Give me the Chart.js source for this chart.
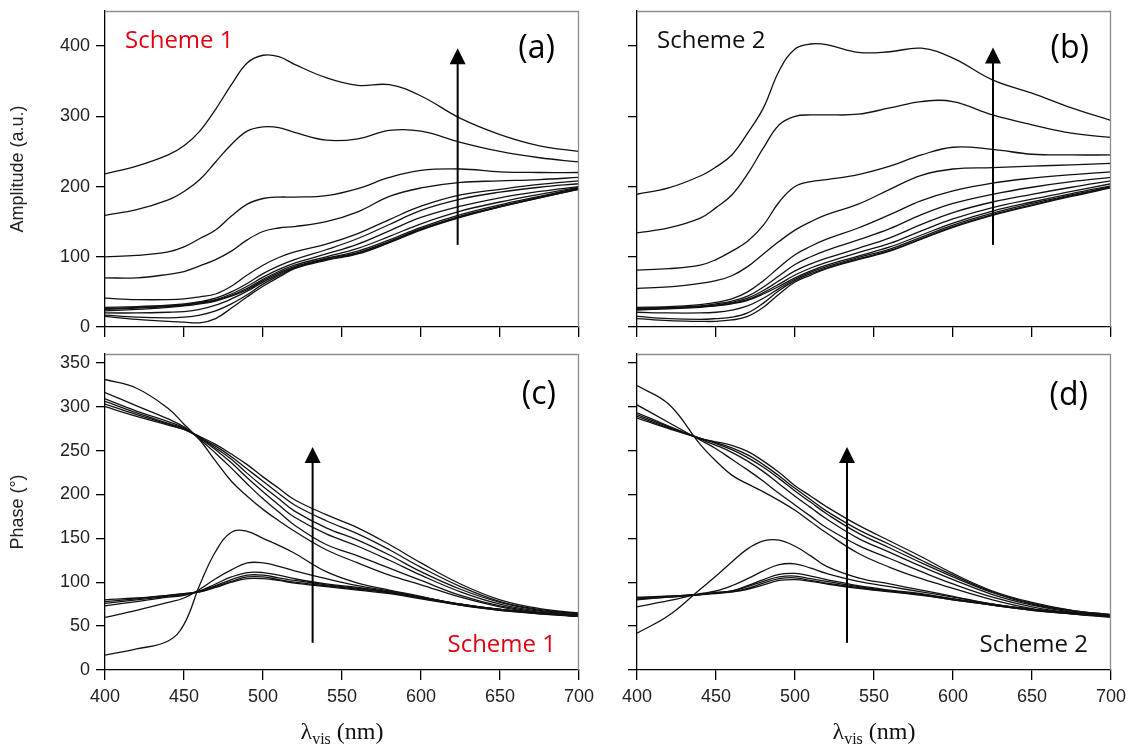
<!DOCTYPE html>
<html>
<head>
<meta charset="utf-8">
<script src="https://cdn.jsdelivr.net/npm/chart.js@4.4.0/dist/chart.umd.min.js"></script>
<style>
  body { margin: 0; background: #fff; width: 1128px; height: 745px; overflow: hidden; position: relative; }
  canvas { position: absolute; }
</style>
</head>
<body>
<canvas id="panelA" width="605" height="340" style="left:0;top:0"></canvas>
<canvas id="panelB" width="538" height="340" style="left:590px;top:0"></canvas>
<canvas id="panelC" width="605" height="405" style="left:0;top:340px"></canvas>
<canvas id="panelD" width="538" height="405" style="left:590px;top:340px"></canvas>
<script>
// wavelength grid (nm), shared by every curve
const wavelengths = [400, 420, 440, 450, 460, 470, 480, 490, 500, 510, 520, 540, 560, 580, 600, 625, 650, 675, 700];

// tick labels
const xTicks = [400, 450, 500, 550, 600, 650, 700];
const amplitudeTicks = [0, 100, 200, 300, 400];
const phaseTicks = [0, 50, 100, 150, 200, 250, 300, 350];

// (a) amplitude, scheme 1
const amplitudeScheme1 = [
  [218, 229, 245, 258, 279, 310, 345, 376, 387, 385, 374, 355, 344, 345, 329, 297, 274, 258, 250],
  [159, 167, 181, 193, 210, 235, 260, 279, 285, 284, 277, 266, 268, 280, 279, 263, 250, 241, 235],
  [100, 102, 107, 114, 126, 138, 158, 175, 183, 185, 185, 187, 197, 213, 223, 225, 221, 220, 220],
  [70, 70, 75, 79, 87, 96, 108, 124, 136, 141, 143, 150, 164, 186, 198, 206, 208, 210, 213],
  [41, 39, 39, 40, 43, 47, 58, 74, 88, 99, 107, 118, 133, 153, 172, 188, 196, 203, 208],
  [28, 29, 31, 33, 36, 41, 50, 62, 76, 87, 96, 110, 126, 146, 166, 182, 192, 199, 204],
  [26, 28, 30, 32, 35, 39, 47, 58, 71, 82, 91, 104, 118, 137, 156, 172, 184, 193, 200],
  [25, 27, 29, 31, 34, 38, 45, 55, 68, 79, 88, 100, 112, 129, 147, 165, 178, 189, 199],
  [23, 25, 28, 30, 33, 37, 44, 53, 66, 77, 86, 98, 108, 124, 142, 160, 174, 186, 198],
  [20, 20, 21, 22, 25, 31, 40, 51, 64, 75, 85, 97, 106, 122, 140, 158, 172, 185, 197],
  [17, 14, 13, 14, 17, 23, 33, 46, 61, 73, 84, 96, 105, 121, 139, 157, 171, 184, 196],
  [15, 11, 8, 7, 6, 12, 27, 43, 58, 71, 83, 95, 104, 120, 138, 156, 171, 184, 196]
];

// (b) amplitude, scheme 2
const amplitudeScheme2 = [
  [189, 198, 215, 228, 245, 276, 312, 365, 396, 403, 402, 391, 392, 397, 383, 352, 333, 312, 294],
  [134, 141, 155, 170, 188, 218, 255, 288, 300, 302, 302, 303, 312, 321, 321, 302, 288, 276, 270],
  [81, 83, 88, 96, 108, 122, 145, 178, 200, 207, 210, 217, 229, 245, 256, 253, 246, 245, 245],
  [55, 57, 62, 66, 73, 86, 104, 122, 138, 150, 160, 175, 196, 216, 225, 227, 229, 231, 233],
  [28, 29, 32, 35, 40, 50, 66, 85, 103, 115, 125, 141, 160, 180, 194, 205, 212, 217, 221],
  [27, 28, 30, 33, 37, 44, 57, 73, 89, 100, 109, 124, 140, 160, 176, 189, 199, 207, 213],
  [26, 27, 29, 31, 35, 41, 52, 66, 80, 90, 98, 112, 127, 146, 163, 178, 189, 199, 208],
  [25, 27, 29, 31, 34, 39, 49, 61, 74, 84, 92, 106, 119, 137, 154, 170, 182, 193, 204],
  [24, 26, 28, 30, 33, 38, 47, 58, 70, 80, 88, 101, 114, 131, 148, 165, 178, 190, 201],
  [21, 20, 20, 21, 24, 30, 41, 55, 68, 78, 86, 99, 111, 128, 145, 162, 176, 188, 200],
  [15, 12, 11, 12, 14, 20, 34, 52, 66, 76, 84, 97, 109, 126, 143, 160, 174, 187, 199],
  [12, 9, 8, 8, 10, 15, 28, 47, 64, 74, 83, 96, 108, 125, 142, 159, 173, 186, 198]
];

// (c) phase, scheme 1
const phaseScheme1 = [
  [331, 321, 298, 280, 262, 238, 215, 198, 183, 170, 158, 137, 122, 108, 97, 83, 72, 65, 61],
  [316, 301, 286, 277, 263, 247, 230, 212, 195, 180, 165, 143, 130, 116, 102, 85, 73, 66, 62],
  [309, 295, 283, 276, 264, 251, 236, 219, 203, 188, 174, 155, 141, 125, 108, 89, 75, 67, 63],
  [306, 293, 281, 275, 265, 253, 240, 224, 209, 195, 181, 162, 148, 131, 112, 92, 77, 68, 64],
  [303, 291, 280, 274, 265, 255, 243, 229, 215, 201, 188, 170, 155, 137, 117, 95, 78, 69, 64],
  [300, 289, 279, 274, 266, 257, 246, 234, 220, 207, 194, 177, 162, 143, 122, 98, 80, 70, 65],
  [17, 24, 33, 52, 97, 135, 157, 158, 150, 142, 133, 112, 99, 91, 84, 74, 68, 65, 61],
  [60, 68, 77, 82, 92, 104, 114, 122, 122, 118, 113, 104, 96, 90, 83, 75, 69, 65, 61],
  [73, 78, 83, 85, 90, 98, 106, 111, 111, 108, 104, 98, 94, 89, 83, 75, 69, 65, 62],
  [76, 80, 84, 86, 90, 96, 103, 108, 108, 105, 102, 97, 93, 88, 82, 75, 69, 65, 62],
  [78, 81, 85, 87, 89, 95, 101, 106, 106, 103, 100, 96, 92, 88, 82, 74, 69, 64, 62],
  [80, 82, 85, 87, 89, 94, 100, 104, 104, 102, 99, 95, 91, 87, 81, 74, 68, 64, 61]
];

// (d) phase, scheme 2
const phaseScheme2 = [
  [324, 303, 257, 238, 222, 212, 203, 193, 182, 169, 156, 133, 117, 104, 93, 80, 70, 64, 60],
  [302, 282, 262, 252, 240, 228, 215, 201, 188, 175, 162, 142, 127, 112, 98, 83, 72, 65, 61],
  [293, 278, 263, 256, 248, 238, 226, 212, 198, 185, 172, 150, 134, 118, 103, 86, 74, 66, 62],
  [291, 277, 264, 258, 251, 242, 231, 218, 204, 191, 178, 156, 139, 122, 106, 88, 75, 67, 62],
  [289, 276, 264, 259, 253, 245, 234, 221, 207, 194, 181, 160, 143, 125, 108, 89, 76, 68, 63],
  [287, 275, 264, 260, 256, 249, 238, 225, 210, 198, 186, 165, 147, 129, 110, 90, 77, 68, 63],
  [42, 62, 92, 107, 123, 138, 147, 148, 141, 130, 118, 105, 98, 91, 84, 75, 69, 65, 61],
  [72, 79, 87, 90, 96, 104, 113, 120, 121, 116, 110, 101, 95, 89, 83, 75, 69, 65, 61],
  [80, 83, 86, 88, 90, 96, 103, 109, 110, 107, 103, 96, 91, 87, 81, 75, 69, 65, 62],
  [81, 83, 86, 88, 90, 95, 101, 106, 107, 104, 101, 95, 90, 86, 81, 74, 69, 65, 62],
  [82, 84, 86, 88, 89, 93, 99, 104, 105, 102, 99, 94, 90, 86, 80, 74, 68, 64, 61],
  [83, 84, 86, 87, 89, 92, 97, 102, 103, 101, 98, 93, 89, 85, 80, 74, 68, 64, 61]
];

// frame, arrow, scheme label, panel tag, x title
const decor = {
  id: 'decor',
  afterDraw(chart, args, o) {
    const { ctx, chartArea: a, scales } = chart;
    ctx.save();
    // grey top/right edges of the box
    ctx.strokeStyle = '#8c8c8c';
    ctx.lineWidth = 1.3;
    ctx.beginPath();
    ctx.moveTo(a.left, a.top + 0.5);
    ctx.lineTo(a.right - 0.5, a.top + 0.5);
    ctx.lineTo(a.right - 0.5, a.bottom);
    ctx.stroke();

    // arrow
    const ax = scales.x.getPixelForValue(o.arrow.x);
    const y0 = scales.y.getPixelForValue(o.arrow.from);
    const y1 = scales.y.getPixelForValue(o.arrow.to);
    ctx.strokeStyle = '#000';
    ctx.fillStyle = '#000';
    ctx.lineWidth = 2;
    ctx.beginPath();
    ctx.moveTo(ax, y0);
    ctx.lineTo(ax, y1 + 14);
    ctx.stroke();
    ctx.beginPath();
    ctx.moveTo(ax, y1);
    ctx.lineTo(ax - 8, y1 + 16);
    ctx.lineTo(ax + 8, y1 + 16);
    ctx.closePath();
    ctx.fill();

    // scheme label
    ctx.font = '24px "Open Sans"';
    ctx.fillStyle = o.scheme.color;
    ctx.textBaseline = 'alphabetic';
    if (o.scheme.top) {
      ctx.textAlign = 'left';
      ctx.fillText(o.scheme.text, a.left + 20, a.top + 37);
    } else {
      ctx.textAlign = 'right';
      ctx.fillText(o.scheme.text, a.right - 23, a.bottom - 18);
    }

    // panel tag
    ctx.font = '32px "Open Sans"';
    ctx.fillStyle = '#000';
    ctx.textAlign = 'right';
    ctx.fillText(o.tag, a.right - o.tagRight, a.top + o.tagBase);

    // x axis title with subscript
    if (o.xTitle) {
      const big = '24px "Liberation Serif"', small = '16px "Liberation Serif"';
      ctx.font = big;
      const w1 = ctx.measureText('\u03bb').width;
      const w3 = ctx.measureText(' (nm)').width;
      ctx.font = small;
      const w2 = ctx.measureText('vis').width;
      let x = (a.left + a.right) / 2 - (w1 + w2 + w3) / 2;
      const base = a.bottom + 69;
      ctx.textAlign = 'left';
      ctx.fillStyle = '#111';
      ctx.font = big;
      ctx.fillText('\u03bb', x, base);
      ctx.font = small;
      ctx.fillText('vis', x + w1, base + 5);
      ctx.font = big;
      ctx.fillText(' (nm)', x + w1 + w2, base);
    }
    ctx.restore();
  }
};

function makePanel(id, series, cfg) {
  const datasets = series.map(vals => ({
    data: vals.map((v, i) => ({ x: wavelengths[i], y: v })),
    borderColor: '#111',
    borderWidth: 1.3,
    pointRadius: 0,
    fill: false,
    tension: 0.4
  }));
  const tickFont = { family: '"Liberation Sans", Arial', size: 18 };
  return new Chart(document.getElementById(id), {
    type: 'line',
    data: { datasets },
    options: {
      responsive: false,
      animation: false,
      events: [],
      layout: { padding: cfg.padding },
      plugins: {
        legend: { display: false },
        tooltip: { enabled: false },
        decor: cfg.decor
      },
      scales: {
        x: {
          type: 'linear',
          min: 400,
          max: 700,
          afterBuildTicks: s => { s.ticks = xTicks.map(v => ({ value: v })); },
          afterFit: s => { s.height = cfg.xHeight; s.paddingLeft = 0; s.paddingRight = 0; },
          grid: { drawOnChartArea: false, drawTicks: true, tickLength: 10, color: '#000', lineWidth: 1.3 },
          border: { display: true, color: '#000', width: 1.3 },
          ticks: { display: cfg.xLabels, color: '#222', font: tickFont, padding: 6, maxRotation: 0, autoSkip: false }
        },
        y: {
          type: 'linear',
          min: 0,
          max: cfg.yMax,
          afterBuildTicks: s => { s.ticks = cfg.yTicks.map(v => ({ value: v })); },
          afterFit: s => { s.width = cfg.yWidth; s.paddingTop = 0; s.paddingBottom = 0; },
          grid: { drawOnChartArea: false, drawTicks: true, tickLength: 9, color: '#000', lineWidth: 1.3 },
          border: { display: true, color: '#000', width: 1.3 },
          ticks: { display: cfg.yLabels, color: '#222', font: tickFont, padding: 6 },
          title: {
            display: !!cfg.yTitle,
            text: cfg.yTitle || '',
            color: '#222',
            font: { family: '"Liberation Sans", Arial', size: 18 },
            padding: { top: 7, bottom: 0 }
          }
        }
      }
    },
    plugins: [decor]
  });
}

makePanel('panelA', amplitudeScheme1, {
  padding: { top: 11, right: 26, left: 0, bottom: 0 },
  xHeight: 13, yWidth: 105, xLabels: false, yLabels: true,
  yMax: 450, yTicks: amplitudeTicks, yTitle: 'Amplitude (a.u.)',
  decor: {
    arrow: { x: 623.2, from: 117, to: 397 },
    scheme: { text: 'Scheme 1', color: '#e10010', top: true },
    tag: '(a)', tagRight: 24, tagBase: 47
  }
});

makePanel('panelB', amplitudeScheme2, {
  padding: { top: 11, right: 17, left: 0, bottom: 0 },
  xHeight: 13, yWidth: 47, xLabels: false, yLabels: false,
  yMax: 450, yTicks: amplitudeTicks,
  decor: {
    arrow: { x: 625.3, from: 117, to: 398 },
    scheme: { text: 'Scheme 2', color: '#111', top: true },
    tag: '(b)', tagRight: 22, tagBase: 47
  }
});

makePanel('panelC', phaseScheme1, {
  padding: { top: 14, right: 26, left: 0, bottom: 0 },
  xHeight: 75, yWidth: 105, xLabels: true, yLabels: true,
  yMax: 360, yTicks: phaseTicks, yTitle: 'Phase (\u00b0)',
  decor: {
    arrow: { x: 531.4, from: 31, to: 254 },
    scheme: { text: 'Scheme 1', color: '#e10010', top: false },
    tag: '(c)', tagRight: 23, tagBase: 50, xTitle: true
  }
});

makePanel('panelD', phaseScheme2, {
  padding: { top: 14, right: 17, left: 0, bottom: 0 },
  xHeight: 75, yWidth: 47, xLabels: true, yLabels: false,
  yMax: 360, yTicks: phaseTicks,
  decor: {
    arrow: { x: 532.9, from: 31, to: 254 },
    scheme: { text: 'Scheme 2', color: '#111', top: false },
    tag: '(d)', tagRight: 23, tagBase: 51, xTitle: true
  }
});
</script>
</body>
</html>
